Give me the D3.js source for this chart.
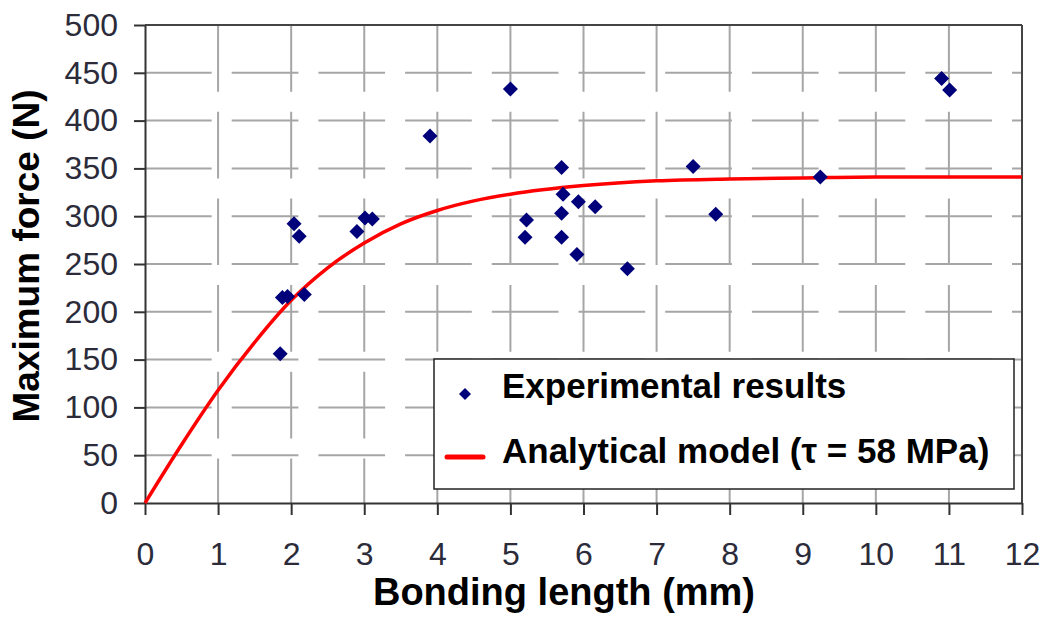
<!DOCTYPE html>
<html>
<head>
<meta charset="utf-8">
<script src="https://cdn.jsdelivr.net/npm/d3@7"></script>
<style>
  html, body { margin: 0; padding: 0; background: #fff; }
  svg { display: block; }
</style>
</head>
<body>
<svg id="chart" width="1051" height="620"></svg>
<script>
// ---- Data ----
const expX = [1.85, 1.88, 1.95, 2.04, 2.11, 2.18, 2.90, 3.01, 3.11, 3.90, 5.00, 5.20, 5.22, 5.70, 5.72, 5.70, 5.70, 5.93, 5.91, 6.16, 6.60, 7.50, 7.81, 9.24, 10.90, 11.01];
const expY = [156, 215, 216, 292, 279, 218, 284, 298, 297, 384, 433, 278, 296, 351, 323, 303, 278, 315, 260, 310, 245, 352, 302, 341, 444, 432];

const modelX = [0, 0.5, 1, 1.5, 2, 2.5, 3, 3.5, 4, 4.5, 5, 6, 7, 8, 9, 10, 11, 12];
const modelY = [0, 61, 118, 168, 212, 246, 272, 292, 306, 316, 323, 332, 337, 339, 340, 341, 341, 341];

const xTicks = [0, 1, 2, 3, 4, 5, 6, 7, 8, 9, 10, 11, 12];
const yTicks = [0, 50, 100, 150, 200, 250, 300, 350, 400, 450, 500];

const xTitle = "Bonding length (mm)";
const yTitle = "Maximum force (N)";
const legendLabels = ["Experimental results", "Analytical model (\u03C4 = 58 MPa)"];

// ---- Layout ----
const svg = d3.select("#chart");
const L = 145, R = 1022, T = 25, B = 503;
const x = d3.scaleLinear().domain([0, 12]).range([L, R]);
const y = d3.scaleLinear().domain([0, 500]).range([B, T]);
const font = "'Liberation Sans', Arial, Helvetica, sans-serif";

// Gridlines
const grid = svg.append("g");
grid.selectAll("line.h").data(yTicks.filter(d => d > 0 && d < 500)).join("line")
  .attr("x1", L).attr("x2", R).attr("y1", d => y(d)).attr("y2", d => y(d))
  .attr("stroke", "#a6a6a6").attr("stroke-width", 2).attr("stroke-dasharray", "66.7,20");
grid.selectAll("line.v").data(xTicks.filter(d => d > 0 && d < 12)).join("line")
  .attr("x1", d => x(d)).attr("x2", d => x(d)).attr("y1", T).attr("y2", B)
  .attr("stroke", "#a6a6a6").attr("stroke-width", 2).attr("stroke-dasharray", "66.7,20");

// Border top/right
svg.append("line").attr("x1", L).attr("x2", R).attr("y1", T).attr("y2", T).attr("stroke", "#444").attr("stroke-width", 2);
svg.append("line").attr("x1", R).attr("x2", R).attr("y1", T).attr("y2", B).attr("stroke", "#444").attr("stroke-width", 2);

// Axes
const yAxis = svg.append("g").attr("transform", `translate(${L},0)`)
  .call(d3.axisLeft(y).tickValues(yTicks).tickSize(11).tickPadding(16).tickSizeOuter(0));
const xAxis = svg.append("g").attr("transform", `translate(0,${B})`)
  .call(d3.axisBottom(x).tickValues(xTicks).tickSize(12).tickPadding(27).tickSizeOuter(0));
[xAxis, yAxis].forEach(g => {
  g.select(".domain").attr("stroke", "#333").attr("stroke-width", 2);
  g.selectAll(".tick line").attr("stroke", "#333").attr("stroke-width", 2);
  g.selectAll(".tick text").attr("fill", "#2b2b3a").style("font-family", font).style("font-size", "32px");
});

// Model curve
const line = d3.line().x((d, i) => x(modelX[i])).y(d => y(d)).curve(d3.curveMonotoneX);
svg.append("path").datum(modelY).attr("d", line)
  .attr("fill", "none").attr("stroke", "#ff0000").attr("stroke-width", 3.5);

// Experimental points
const diamond = s => `M0,${-s}L${s},0L0,${s}L${-s},0Z`;
svg.append("g").selectAll("path").data(expX).join("path")
  .attr("transform", (d, i) => `translate(${x(d)},${y(expY[i])})`)
  .attr("d", diamond(7.5)).attr("fill", "#00007a");

// Axis titles
svg.append("text").attr("x", 564).attr("y", 605)
  .attr("text-anchor", "middle").style("font-family", font).style("font-weight", "bold")
  .style("font-size", "38px").attr("fill", "#000").text(xTitle);
svg.append("text").attr("transform", "translate(39,256) rotate(-90)")
  .attr("text-anchor", "middle").style("font-family", font).style("font-weight", "bold")
  .style("font-size", "37px").attr("fill", "#000").text(yTitle);

// Legend
const lg = svg.append("g");
lg.append("rect").attr("x", 434).attr("y", 359).attr("width", 580).attr("height", 130)
  .attr("fill", "#fff").attr("stroke", "#222").attr("stroke-width", 1.5);
lg.append("path").attr("transform", "translate(465,394)").attr("d", diamond(6)).attr("fill", "#00007a");
lg.append("line").attr("x1", 447).attr("x2", 483).attr("y1", 457).attr("y2", 457)
  .attr("stroke", "#ff0000").attr("stroke-width", 5).attr("stroke-linecap", "round");
lg.selectAll("text").data(legendLabels).join("text")
  .attr("x", 502).attr("y", (d, i) => i === 0 ? 398 : 463)
  .style("font-family", font).style("font-weight", "bold").style("font-size", "35px")
  .attr("fill", "#000").text(d => d);
</script>
</body>
</html>
